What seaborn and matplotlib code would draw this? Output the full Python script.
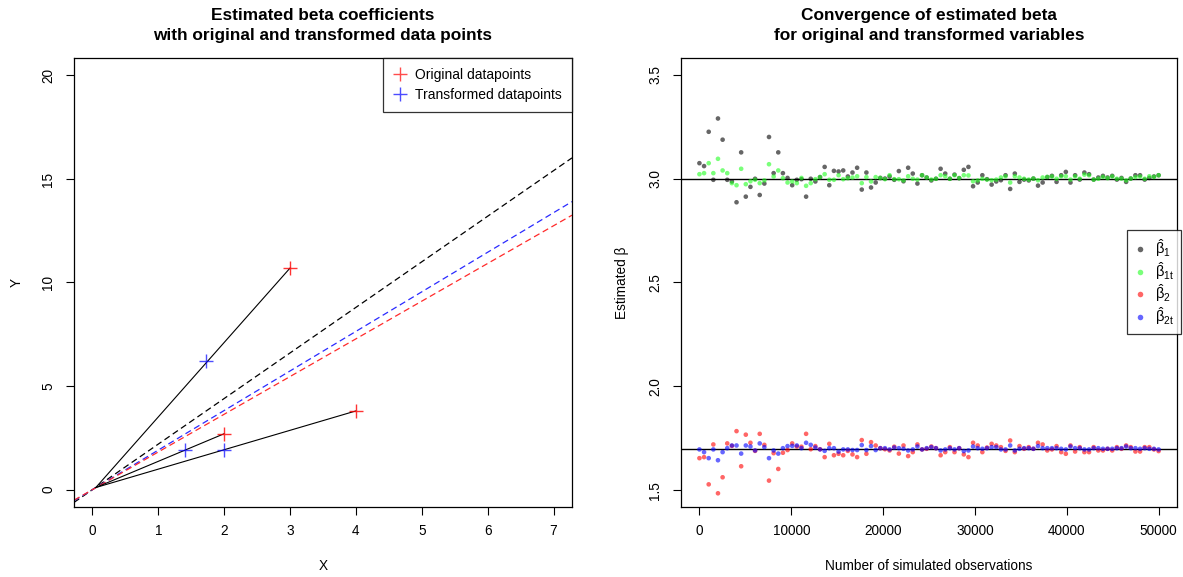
import numpy as np
import pandas as pd
import matplotlib
matplotlib.use("Agg")
import matplotlib.pyplot as plt
import seaborn as sns
from matplotlib.lines import Line2D

# ---------------- data: left panel ----------------
anchor_x = [0.05]
anchor_y = [0.1]
orig_x = [3.0, 2.0, 4.0]
orig_y = [10.7, 2.7, 3.8]
trans_x = [1.73, 1.41, 2.0]
trans_y = [6.2, 1.9, 1.9]
fit_names = ["true", "transformed", "original"]
fit_slopes = [2.2, 1.91, 1.82]

# ---------------- data: right panel ----------------
n_obs = np.linspace(0, 50000, 100)
beta1 = [3.074, 3.060, 3.225, 2.994, 3.289, 3.187, 2.994, 2.986, 2.886, 3.126,
         2.913, 2.960, 2.999, 2.921, 2.976, 3.200, 3.026, 3.126, 3.026, 3.003,
         2.968, 2.994, 2.997, 2.913, 2.999, 2.986, 3.007, 3.056, 2.968, 3.037,
         3.034, 3.039, 3.010, 3.029, 3.052, 2.947, 3.029, 2.957, 2.981, 3.003,
         3.000, 3.010, 2.994, 3.036, 2.987, 3.052, 3.024, 2.976, 3.016, 3.005,
         2.991, 2.999, 3.047, 3.024, 2.999, 3.019, 3.002, 3.042, 3.056, 2.963,
         2.981, 3.016, 2.997, 2.971, 2.986, 2.992, 3.016, 2.950, 3.024, 2.984,
         2.995, 2.991, 3.000, 2.966, 2.981, 3.007, 3.013, 2.984, 3.016, 3.032,
         2.981, 3.016, 2.995, 3.029, 3.021, 2.995, 3.005, 3.013, 3.005, 3.013,
         2.995, 3.003, 2.984, 3.000, 3.016, 3.016, 2.995, 3.003, 3.010, 3.016]
beta1t = [3.021, 3.026, 3.074, 3.026, 3.095, 3.039, 3.026, 2.978, 2.968, 3.047,
          2.973, 2.987, 2.994, 2.978, 2.991, 3.069, 3.010, 3.039, 3.002, 2.981,
          2.986, 2.978, 3.003, 2.965, 2.978, 2.997, 3.007, 3.021, 2.994, 2.994,
          3.016, 2.997, 3.002, 3.005, 3.011, 2.978, 3.007, 2.986, 3.007, 3.003,
          2.997, 3.016, 2.997, 2.997, 2.991, 3.011, 2.999, 2.995, 3.016, 3.005,
          2.995, 2.999, 3.016, 3.011, 2.999, 3.016, 3.002, 3.016, 3.015, 2.987,
          2.991, 2.999, 2.995, 2.992, 2.995, 3.005, 3.011, 2.981, 3.011, 3.005,
          2.999, 2.995, 3.000, 2.992, 3.005, 3.008, 3.010, 2.999, 3.011, 3.011,
          2.995, 3.011, 2.999, 3.019, 3.016, 2.995, 2.999, 3.008, 3.002, 3.010,
          2.999, 3.000, 2.991, 3.000, 3.007, 3.010, 2.999, 3.011, 3.008, 3.016]
beta2 = [1.655, 1.660, 1.529, 1.721, 1.486, 1.563, 1.726, 1.714, 1.785, 1.616,
         1.768, 1.729, 1.690, 1.772, 1.719, 1.547, 1.679, 1.603, 1.681, 1.694,
         1.726, 1.711, 1.710, 1.772, 1.698, 1.713, 1.698, 1.660, 1.724, 1.669,
         1.676, 1.669, 1.690, 1.673, 1.660, 1.742, 1.676, 1.732, 1.716, 1.703,
         1.698, 1.692, 1.710, 1.677, 1.716, 1.665, 1.684, 1.721, 1.697, 1.700,
         1.711, 1.703, 1.669, 1.684, 1.708, 1.684, 1.703, 1.673, 1.660, 1.729,
         1.716, 1.684, 1.706, 1.724, 1.716, 1.708, 1.690, 1.740, 1.684, 1.713,
         1.700, 1.708, 1.700, 1.729, 1.721, 1.692, 1.697, 1.713, 1.684, 1.676,
         1.716, 1.687, 1.708, 1.684, 1.684, 1.708, 1.692, 1.692, 1.700, 1.692,
         1.708, 1.700, 1.716, 1.708, 1.687, 1.687, 1.708, 1.708, 1.697, 1.689]
beta2t = [1.697, 1.684, 1.655, 1.697, 1.645, 1.684, 1.703, 1.716, 1.716, 1.677,
          1.716, 1.711, 1.692, 1.726, 1.708, 1.655, 1.692, 1.677, 1.703, 1.713,
          1.714, 1.716, 1.703, 1.729, 1.719, 1.706, 1.697, 1.690, 1.703, 1.703,
          1.687, 1.697, 1.697, 1.694, 1.694, 1.718, 1.694, 1.713, 1.694, 1.703,
          1.703, 1.697, 1.706, 1.703, 1.700, 1.692, 1.697, 1.711, 1.697, 1.703,
          1.708, 1.703, 1.692, 1.697, 1.703, 1.697, 1.703, 1.689, 1.692, 1.711,
          1.703, 1.700, 1.703, 1.708, 1.708, 1.697, 1.697, 1.716, 1.692, 1.700,
          1.703, 1.703, 1.700, 1.713, 1.703, 1.703, 1.703, 1.703, 1.700, 1.697,
          1.711, 1.703, 1.703, 1.697, 1.697, 1.703, 1.703, 1.700, 1.700, 1.700,
          1.703, 1.703, 1.711, 1.703, 1.703, 1.700, 1.703, 1.700, 1.700, 1.697]
true_betas = [3.0, 1.7]
series_labels = [r"$\hat{\beta}_1$", r"$\hat{\beta}_{1t}$",
                 r"$\hat{\beta}_2$", r"$\hat{\beta}_{2t}$"]
x_ticks_left = [0, 1, 2, 3, 4, 5, 6, 7]
y_ticks_left = [0, 5, 10, 15, 20]
x_ticks_right = [0, 10000, 20000, 30000, 40000, 50000]
y_ticks_right = [1.5, 2.0, 2.5, 3.0, 3.5]

# ---------------- style ----------------
sns.set_theme(style="ticks")
plt.rcParams["font.family"] = ["Liberation Sans", "DejaVu Sans"]
plt.rcParams["mathtext.fontset"] = "custom"
plt.rcParams["mathtext.rm"] = "Liberation Sans"
plt.rcParams["mathtext.it"] = "Liberation Sans"
plt.rcParams["axes.edgecolor"] = "black"
plt.rcParams["axes.linewidth"] = 0.9
plt.rcParams["xtick.color"] = "black"
plt.rcParams["ytick.color"] = "black"
plt.rcParams["text.color"] = "black"
plt.rcParams["axes.labelcolor"] = "black"
plt.rcParams["axes.titlecolor"] = "black"

fig = plt.figure(figsize=(11.83, 5.77), dpi=100)
axL = fig.add_axes([0.0626, 0.1213, 0.4209, 0.7782])
axR = fig.add_axes([0.5757, 0.1213, 0.4192, 0.7782])

TICK_FS = 9.8
LAB_FS = 9.8
TITLE_FS = 12.4

def style_axes(ax):
    for s in ax.spines.values():
        s.set_visible(True)
        s.set_color("black")
        s.set_linewidth(0.9)
    ax.tick_params(axis="both", direction="out", length=5.5, width=0.8,
                   labelsize=TICK_FS, colors="black")
    ax.tick_params(axis="x", pad=7)
    ax.tick_params(axis="y", pad=8)
    for lab in ax.get_yticklabels():
        lab.set_rotation(90)
        lab.set_va("center")

# ---------------- left panel ----------------
for ox, oy in zip(orig_x, orig_y):
    axL.plot([anchor_x[0], ox], [anchor_y[0], oy], color="black", lw=0.8, zorder=2)

fit_colors = {"true": "black", "transformed": "#2a2aff", "original": "#ff2a2a"}
for name, slope in zip(fit_names, fit_slopes):
    axL.axline((0, 0), slope=slope, color=fit_colors[name], lw=0.9,
               dashes=(5, 3), zorder=1)

sns.scatterplot(x=orig_x, y=orig_y, marker="+", color="#ff0000", s=110,
                linewidth=1.0, alpha=0.8, ax=axL, zorder=3)
sns.scatterplot(x=trans_x, y=trans_y, marker="+", color="#0000ff", s=110,
                linewidth=1.0, alpha=0.7, ax=axL, zorder=3)

axL.set_xlim(-0.28, 7.28)
axL.set_ylim(-0.84, 20.84)
axL.set_xticks(x_ticks_left)
axL.set_yticks(y_ticks_left)
axL.set_xticklabels([str(v) for v in x_ticks_left])
axL.set_yticklabels([str(v) for v in y_ticks_left])
axL.set_xlabel("X", fontsize=LAB_FS, labelpad=15)
axL.set_ylabel("Y", fontsize=LAB_FS, labelpad=13)
axL.set_title("Estimated beta coefficients\nwith original and transformed data points",
              fontsize=TITLE_FS, fontweight="bold", pad=13, linespacing=1.4)
style_axes(axL)

legL_handles = [
    Line2D([], [], marker="+", ls="none", color="#ff0000", alpha=0.7, markersize=10, mew=1.0),
    Line2D([], [], marker="+", ls="none", color="#0000ff", alpha=0.7, markersize=10, mew=1.0),
]
legL = axL.legend(legL_handles, ["Original datapoints", "Transformed datapoints"],
                  loc="upper right", bbox_to_anchor=(1.0, 1.0), borderaxespad=0,
                  frameon=True, fancybox=False, edgecolor="black", fontsize=10,
                  handlelength=1.0, handletextpad=0.6, labelspacing=0.4,
                  borderpad=0.72)
legL.get_frame().set_linewidth(0.9)

# ---------------- right panel ----------------
series_vals = [beta1, beta1t, beta2, beta2t]
df = pd.concat([
    pd.DataFrame({"n": n_obs, "estimate": vals, "series": lab})
    for lab, vals in zip(series_labels, series_vals)
], ignore_index=True)
palette = {series_labels[0]: "#000000", series_labels[1]: "#22ff22",
           series_labels[2]: "#ff0000", series_labels[3]: "#0000ff"}
sns.scatterplot(data=df, x="n", y="estimate", hue="series", palette=palette,
                hue_order=series_labels, s=11, alpha=0.6, edgecolor="none",
                legend=False, ax=axR, zorder=3)
for tb in true_betas:
    axR.axhline(tb, color="black", lw=1.0, zorder=2)

axR.set_xlim(-2000, 52000)
axR.set_ylim(1.42, 3.58)
axR.set_xticks(x_ticks_right)
axR.set_yticks(y_ticks_right)
axR.set_xticklabels([str(v) for v in x_ticks_right])
axR.set_yticklabels([f"{v:.1f}" for v in y_ticks_right])
axR.set_xlabel("Number of simulated observations", fontsize=LAB_FS, labelpad=15)
axR.set_ylabel(r"Estimated β", fontsize=LAB_FS, labelpad=14)
axR.set_title("Convergence of estimated beta\nfor original and transformed variables",
              fontsize=TITLE_FS, fontweight="bold", pad=13, linespacing=1.4)
style_axes(axR)

legR_handles = [Line2D([], [], marker="o", ls="none", color=palette[l], alpha=0.6,
                       markersize=4, mec="none") for l in series_labels]
legR = fig.legend(legR_handles, series_labels, loc="upper left",
                  bbox_to_anchor=(1127 / 1183, 1 - 230 / 577),
                  frameon=True, fancybox=False, edgecolor="black", fontsize=10.5,
                  handlelength=0.8, handletextpad=0.6, labelspacing=0.05,
                  borderpad=0.5, borderaxespad=0)
legR.get_frame().set_linewidth(0.9)

fig.savefig("out.png", dpi=100)
